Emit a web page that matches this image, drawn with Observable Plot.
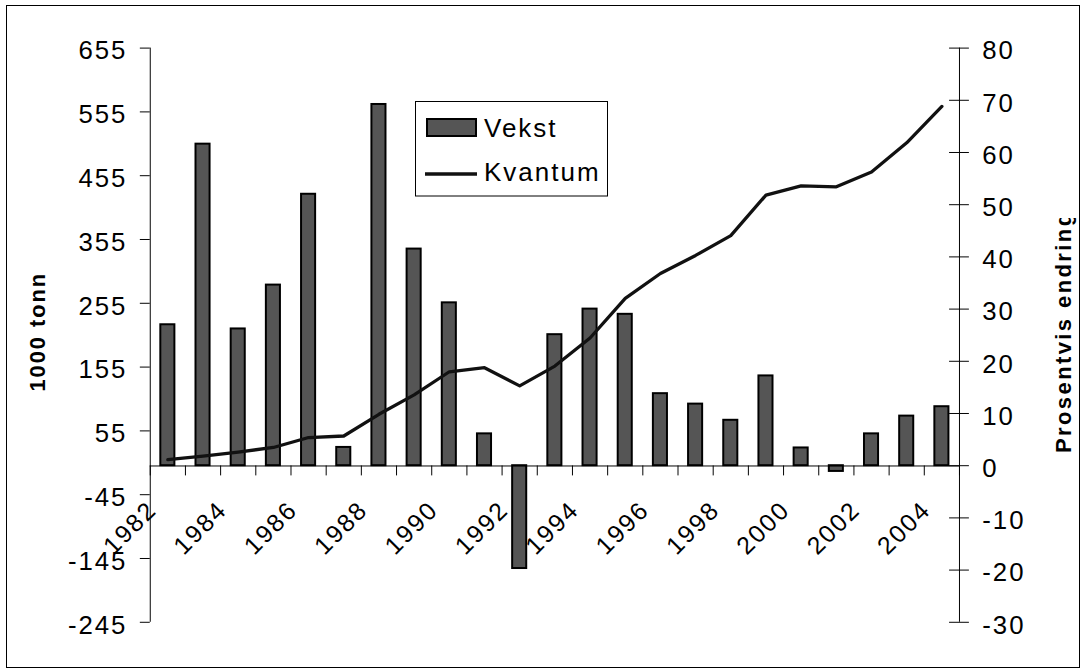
<!DOCTYPE html>
<html><head><meta charset="utf-8">
<script src="https://cdn.jsdelivr.net/npm/d3@7"></script>
<script src="https://cdn.jsdelivr.net/npm/@observablehq/plot@0.6"></script>
<style>
body{margin:0;background:#fff;font-family:"Liberation Sans",Arial,sans-serif;}
#wrap{position:relative;width:1087px;height:670px;overflow:hidden;background:#fff}
#clip{position:absolute;left:0;top:0;width:1078px;height:670px;overflow:hidden}
#overlay{position:absolute;left:0;top:0;pointer-events:none}
</style></head>
<body>
<div id="wrap"><div id="clip"></div><svg id="overlay" width="1087" height="670"></svg></div>
<script>
const years = [1982,1983,1984,1985,1986,1987,1988,1989,1990,1991,1992,1993,1994,1995,1996,1997,1998,1999,2000,2001,2002,2003,2004];
const vekst = [27.0,61.6,26.2,34.6,52.0,3.5,69.2,41.5,31.2,6.1,-19.7,25.1,30.0,29.0,13.8,11.8,8.7,17.2,3.4,-1.1,6.1,9.5,11.3];
const kvantum = [9.8,15.5,21.8,29,44.6,47,81,111.5,147.7,154,125.5,156.6,200.6,262.8,301.7,330,361,424.6,439,437.5,460.8,506.5,563.5];
const leftTicks = [-245,-145,-45,55,155,255,355,455,555,655];
const rightTicks = [-30,-20,-10,0,10,20,30,40,50,60,70,80];
const xLabels = [1982,1984,1986,1988,1990,1992,1994,1996,1998,2000,2002,2004];
const seriesNames = ["Vekst","Kvantum"];
const leftTitle = "1000 tonn";
const rightTitle = "Prosentvis endring";

const LEFT = [leftTicks[0], leftTicks[leftTicks.length-1]];
const RIGHT = [rightTicks[0], rightTicks[rightTicks.length-1]];
const toLeft = r => LEFT[0] + (r - RIGHT[0]) * (LEFT[1]-LEFT[0]) / (RIGHT[1]-RIGHT[0]);
const fromLeft = l => RIGHT[0] + (l - LEFT[0]) * (RIGHT[1]-RIGHT[0]) / (LEFT[1]-LEFT[0]);

const data = years.map((y,i)=>({year:y, vekst:vekst[i], kvantum:kvantum[i]}));
const bounds = d3.range(years.length+1).map(i => years[0]-0.5+i);
const xMin = bounds[0], xMax = bounds[bounds.length-1];
const FONT = "Liberation Sans";

const chart = Plot.plot({
  width:1087, height:670, marginLeft:151, marginRight:120, marginTop:48, marginBottom:43,
  style:{fontFamily:FONT, fontSize:"26px", background:"transparent", color:"#000", letterSpacing:"2px"},
  x:{domain:[xMin, xMax], axis:null},
  y:{domain: LEFT},
  marks:[
    Plot.rect(data,{x1:d=>d.year-0.2, x2:d=>d.year+0.2, y1:()=>toLeft(0), y2:d=>toLeft(d.vekst), fill:"#555555", stroke:"#000", strokeWidth:2}),
    Plot.ruleY([0], {stroke:"#000", strokeWidth:1}),
    Plot.ruleX([xMin, xMax], {stroke:"#000", strokeWidth:1}),
    Plot.ruleX(bounds, {y1:0, y2:0, insetBottom:-10, stroke:"#000"}),
    Plot.ruleY(leftTicks, {x1:xMin, x2:xMin, insetLeft:-10, stroke:"#000"}),
    Plot.ruleY(rightTicks.map(toLeft), {x1:xMax, x2:xMax, insetLeft:-10, insetRight:-10, stroke:"#000"}),
    Plot.line(data,{x:"year", y:"kvantum", stroke:"#111", strokeWidth:3.3, strokeLinejoin:"round"}),
    Plot.axisY({anchor:"left", ticks:leftTicks, tickFormat:d=>String(d), tickSize:0, tickPadding:23, dy:3, label:null, fontSize:26}),
    Plot.axisY({anchor:"right", ticks:rightTicks.map(toLeft), tickFormat:d=>String(Math.round(fromLeft(d))), tickSize:0, tickPadding:23, dy:3, label:null, fontSize:26}),
    Plot.text(xLabels, {x:d=>d, text:d=>String(d), frameAnchor:"bottom", rotate:-45, textAnchor:"end", lineAnchor:"middle", dx:-15.5, dy:-117.5, fontSize:25}),
    Plot.text([leftTitle], {text:d=>d, frameAnchor:"left", rotate:-90, textAnchor:"middle", lineAnchor:"middle", dx:-113, dy:-3.5, fontSize:22, fontWeight:"bold"})
  ]
});
document.getElementById("clip").appendChild(chart);

const ov = d3.select("#overlay");
// outer chart border
ov.append("rect").attr("x",6.5).attr("y",5.5).attr("width",1073).attr("height",662)
  .attr("fill","none").attr("stroke","#000").attr("stroke-width",1);

// right axis title (clipped at its end, as in the original)
const defs = ov.append("defs");
defs.append("clipPath").attr("id","rtclip").append("rect")
  .attr("x",1000).attr("y",218).attr("width",78).attr("height",440);
ov.append("g").attr("clip-path","url(#rtclip)")
  .append("text")
  .attr("transform","translate(1071,453) rotate(-90)")
  .attr("text-anchor","start")
  .attr("font-family",FONT).attr("font-size",22).attr("font-weight","bold")
  .attr("letter-spacing","2.4px").attr("fill","#000")
  .text(rightTitle);

// legend
const lg = ov.append("g").attr("font-family",FONT).attr("font-size",26).attr("letter-spacing","2px").attr("fill","#000");
lg.append("rect").attr("x",415.5).attr("y",101.5).attr("width",192).attr("height",94.5)
  .attr("fill","#fff").attr("stroke","#000").attr("stroke-width",1);
lg.append("rect").attr("x",427).attr("y",119).attr("width",49).attr("height",17)
  .attr("fill","#555555").attr("stroke","#000").attr("stroke-width",2);
lg.append("text").attr("x",484).attr("y",137).text(seriesNames[0]);
lg.append("line").attr("x1",425).attr("x2",477).attr("y1",174).attr("y2",174)
  .attr("stroke","#111").attr("stroke-width",3.3);
lg.append("text").attr("x",484).attr("y",180.5).text(seriesNames[1]);
</script>
</body></html>
